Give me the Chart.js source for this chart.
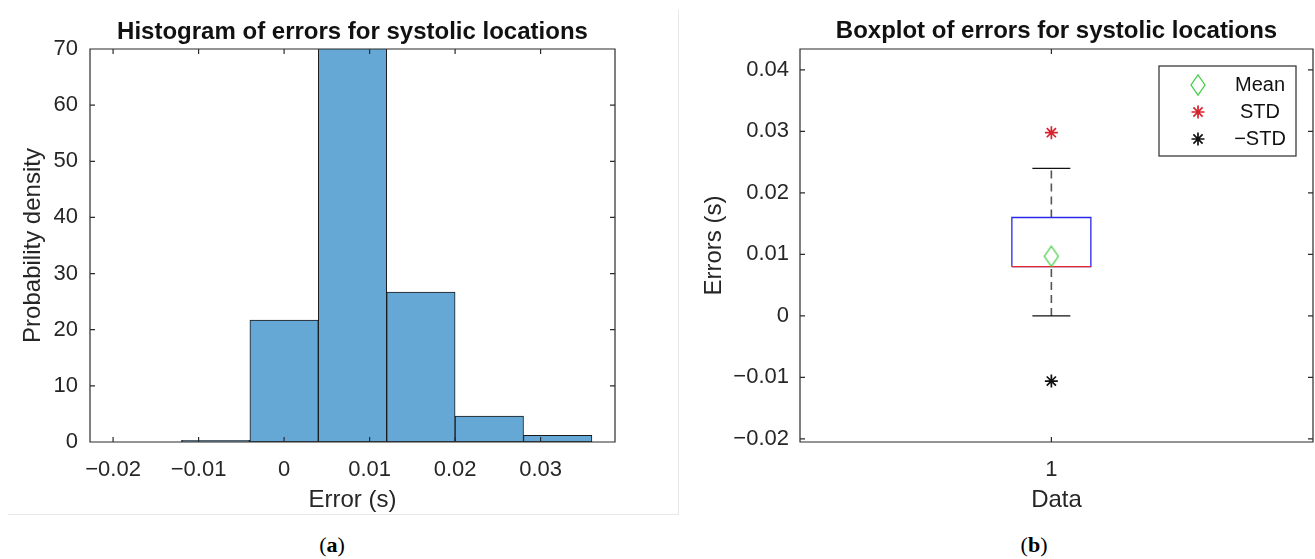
<!DOCTYPE html>
<html lang="en">
<head>
  <meta charset="UTF-8">
  <title>Errors for systolic locations</title>
  <script src="https://cdn.jsdelivr.net/npm/chart.js"></script>
  <style>
    body {
      margin: 0;
      width: 1315px;
      height: 559px;
      position: relative;
      overflow: hidden;
      background: #fff;
    }
    .frame {
      position: absolute;
      left: 8px;
      top: 10px;
      width: 670px;
      height: 504px;
      border-right: 1px solid #e8e8e8;
      border-bottom: 1px solid #e8e8e8;
    }
    canvas { position: absolute; top: 0; }
    #histChart { left: 0; }
    #boxChart { left: 680px; }
    .caption {
      position: absolute;
      top: 532px;
      font-family: "Liberation Serif", "DejaVu Serif", serif;
      font-size: 22px;
      color: #000;
      transform: translateX(-50%);
    }
  </style>
</head>
<body>
  <div class="frame"></div>
  <canvas id="histChart" width="660" height="515"></canvas>
  <canvas id="boxChart" width="635" height="515"></canvas>
  <div class="caption" style="left:332px">(<b>a</b>)</div>
  <div class="caption" style="left:1034px">(<b>b</b>)</div>

  <script>
    // (a) histogram values
    const binEdges = [-0.012, -0.004, 0.004, 0.012, 0.020, 0.028, 0.036];
    const density = [0.3, 21.7, 70.2, 26.7, 4.6, 1.2];
    const histXTicks = [-0.02, -0.01, 0, 0.01, 0.02, 0.03];
    const histXLabels = ['−0.02', '−0.01', '0', '0.01', '0.02', '0.03'];
    const histYTicks = [0, 10, 20, 30, 40, 50, 60, 70];

    // (b) boxplot values: lower whisker, q1, median, q3, upper whisker
    const boxPosition = [1];
    const boxStats = [0, 0.008, 0.008, 0.016, 0.024];
    const meanErr = [0.0097];
    const plusStd = [0.0298];
    const minusStd = [-0.0106];
    const boxYTicks = [-0.02, -0.01, 0, 0.01, 0.02, 0.03, 0.04];
    const boxYLabels = ['−0.02', '−0.01', '0', '0.01', '0.02', '0.03', '0.04'];
    const legendLabels = ['Mean', 'STD', '−STD'];

    Chart.defaults.font.family = '"Liberation Sans", Arial, Helvetica, sans-serif';
    Chart.defaults.color = '#262626';
    Chart.defaults.animation = false;
    Chart.defaults.events = [];

    const tickFont = { size: 22 };
    const labelFont = { size: 24 };
    const titleFont = { size: 24, weight: 'bold' };

    // MATLAB style axes box with inward tick marks on all four sides
    const axesBox = {
      id: 'axesBox',
      afterDatasetsDraw(chart) {
        const { ctx, chartArea: a, scales: { x, y } } = chart;
        const len = 5;
        ctx.save();
        ctx.strokeStyle = '#2b2b2b';
        ctx.lineWidth = 1.2;
        ctx.beginPath();
        x.ticks.forEach(t => {
          const px = x.getPixelForValue(t.value);
          ctx.moveTo(px, a.bottom); ctx.lineTo(px, a.bottom - len);
          ctx.moveTo(px, a.top); ctx.lineTo(px, a.top + len);
        });
        y.ticks.forEach(t => {
          const py = y.getPixelForValue(t.value);
          ctx.moveTo(a.left, py); ctx.lineTo(a.left + len, py);
          ctx.moveTo(a.right, py); ctx.lineTo(a.right - len, py);
        });
        ctx.rect(a.left, a.top, a.right - a.left, a.bottom - a.top);
        ctx.stroke();
        ctx.restore();
      }
    };

    function fixedTicks(values) {
      return scale => { scale.ticks = values.map(v => ({ value: v })); };
    }

    // ---------- (a) histogram ----------
    const binCenters = density.map((d, i) => (binEdges[i] + binEdges[i + 1]) / 2);

    new Chart(document.getElementById('histChart'), {
      type: 'bar',
      data: {
        datasets: [{
          data: binCenters.map((c, i) => ({ x: c, y: density[i] })),
          backgroundColor: 'rgb(101,168,214)',
          borderColor: '#1a1a1a',
          borderWidth: 1,
          borderSkipped: false,
          barPercentage: 1,
          categoryPercentage: 1
        }]
      },
      options: {
        responsive: false,
        layout: { autoPadding: false, padding: { left: 0, right: 45, top: 0, bottom: 0 } },
        plugins: {
          legend: { display: false },
          tooltip: { enabled: false },
          title: {
            display: true,
            fullSize: false,
            text: 'Histogram of errors for systolic locations',
            color: '#111',
            font: titleFont,
            padding: { top: 17.6, bottom: 2.6 }
          }
        },
        scales: {
          x: {
            type: 'linear',
            offset: false,
            min: -0.0227,
            max: 0.0387,
            afterBuildTicks: fixedTicks(histXTicks),
            afterFit: s => { s.height = 73; },
            grid: { display: false },
            border: { display: false },
            ticks: {
              font: tickFont,
              padding: 6.8,
              maxRotation: 0,
              autoSkip: false,
              callback: (v, i) => histXLabels[i]
            },
            title: { display: true, text: 'Error (s)', font: labelFont, padding: { top: 0, bottom: 0 } }
          },
          y: {
            min: 0,
            max: 70,
            afterBuildTicks: fixedTicks(histYTicks),
            afterFit: s => { s.width = 90; },
            grid: { display: false },
            border: { display: false },
            ticks: { font: tickFont, padding: 4 },
            title: { display: true, text: 'Probability density', font: labelFont, padding: { top: 18.6, bottom: 0 } }
          }
        }
      },
      plugins: [axesBox]
    });

    // ---------- (b) boxplot ----------
    const boxHalf = 0.077;
    const capHalf = 0.037;
    const [wLo, q1, med, q3, wHi] = boxStats;
    const bx = boxPosition[0];

    function diamondImage(w, h, color) {
      const c = document.createElement('canvas');
      c.width = w + 4;
      c.height = h + 4;
      const g = c.getContext('2d');
      g.strokeStyle = color;
      g.lineWidth = 1.3;
      g.beginPath();
      g.moveTo(c.width / 2, 2);
      g.lineTo(c.width - 2, c.height / 2);
      g.lineTo(c.width / 2, c.height - 2);
      g.lineTo(2, c.height / 2);
      g.closePath();
      g.stroke();
      return c;
    }
    const meanColor = 'rgb(70,205,70)';
    const stdColor = 'rgb(215,35,45)';
    const diamond = diamondImage(14, 20, meanColor);

    const seg = (pts, color, extra) => Object.assign({
      data: pts,
      borderColor: color,
      borderWidth: 1.3,
      pointRadius: 0,
      fill: false,
      tension: 0
    }, extra || {});

    function drawStar(ctx, x, y, r, color) {
      const d = r * 0.707;
      ctx.strokeStyle = color;
      ctx.lineWidth = 1.7;
      ctx.beginPath();
      ctx.moveTo(x - r, y); ctx.lineTo(x + r, y);
      ctx.moveTo(x, y - r); ctx.lineTo(x, y + r);
      ctx.moveTo(x - d, y - d); ctx.lineTo(x + d, y + d);
      ctx.moveTo(x - d, y + d); ctx.lineTo(x + d, y - d);
      ctx.stroke();
    }

    const boxLegend = {
      id: 'boxLegend',
      afterDraw(chart) {
        const { ctx, chartArea: a } = chart;
        const w = 137, h = 90;
        const left = a.right - 17 - w, top = a.top + 17;
        ctx.save();
        ctx.fillStyle = '#fff';
        ctx.fillRect(left, top, w, h);
        ctx.strokeStyle = '#2b2b2b';
        ctx.lineWidth = 1.2;
        ctx.strokeRect(left, top, w, h);
        const rows = [top + 19, top + 46, top + 73];
        const mx = left + 39;
        ctx.drawImage(diamond, mx - diamond.width / 2, rows[0] - diamond.height / 2);
        drawStar(ctx, mx, rows[1], 6.5, stdColor);
        drawStar(ctx, mx, rows[2], 6.5, '#111');
        ctx.fillStyle = '#111';
        ctx.font = '20px "Liberation Sans", Arial, sans-serif';
        ctx.textAlign = 'center';
        ctx.textBaseline = 'middle';
        legendLabels.forEach((t, i) => ctx.fillText(t, left + 101, rows[i]));
        ctx.restore();
      }
    };

    new Chart(document.getElementById('boxChart'), {
      type: 'line',
      data: {
        datasets: [
          // mean and +/- std markers (drawn on top)
          { data: [{ x: bx, y: meanErr[0] }], showLine: false, pointStyle: diamond, pointRadius: 10, borderColor: meanColor },
          { data: [{ x: bx, y: plusStd[0] }], showLine: false, pointStyle: 'star', pointRadius: 6.5, pointBorderWidth: 1.7, borderColor: stdColor },
          { data: [{ x: bx, y: minusStd[0] }], showLine: false, pointStyle: 'star', pointRadius: 6.5, pointBorderWidth: 1.7, borderColor: '#111' },
          // median
          seg([{ x: bx - boxHalf, y: med }, { x: bx + boxHalf, y: med }], 'rgb(235,40,40)'),
          // box
          seg([{ x: bx - boxHalf, y: q1 }, { x: bx + boxHalf, y: q1 }, { x: bx + boxHalf, y: q3 },
               { x: bx - boxHalf, y: q3 }, { x: bx - boxHalf, y: q1 }], 'rgb(40,40,235)'),
          // whisker caps
          seg([{ x: bx - capHalf, y: wHi }, { x: bx + capHalf, y: wHi }], '#111'),
          seg([{ x: bx - capHalf, y: wLo }, { x: bx + capHalf, y: wLo }], '#111'),
          // dashed whiskers
          seg([{ x: bx, y: q3 }, { x: bx, y: wHi }], '#555', { borderDash: [8, 5], borderWidth: 1.6 }),
          seg([{ x: bx, y: wLo }, { x: bx, y: q1 }], '#555', { borderDash: [8, 5], borderWidth: 1.6 })
        ]
      },
      options: {
        responsive: false,
        layout: { autoPadding: false, padding: { left: 0, right: 2, top: 0, bottom: 0 } },
        plugins: {
          legend: { display: false },
          tooltip: { enabled: false },
          title: {
            display: true,
            fullSize: false,
            text: 'Boxplot of errors for systolic locations',
            color: '#111',
            font: titleFont,
            padding: { top: 16.6, bottom: 3.6 }
          }
        },
        scales: {
          x: {
            type: 'linear',
            min: 0.51,
            max: 1.51,
            afterBuildTicks: fixedTicks(boxPosition),
            afterFit: s => { s.height = 73; },
            grid: { display: false },
            border: { display: false },
            ticks: { font: tickFont, padding: 6.8, maxRotation: 0, callback: v => String(v) },
            title: { display: true, text: 'Data', font: labelFont, padding: { top: 0, bottom: 0 } }
          },
          y: {
            type: 'linear',
            min: -0.0205,
            max: 0.0434,
            afterBuildTicks: fixedTicks(boxYTicks),
            afterFit: s => { s.width = 120; },
            grid: { display: false },
            border: { display: false },
            ticks: { font: tickFont, padding: 3, callback: (v, i) => boxYLabels[i] },
            title: { display: true, text: 'Errors (s)', font: labelFont, padding: { top: 19.6, bottom: 0 } }
          }
        }
      },
      plugins: [axesBox, boxLegend]
    });
  </script>
</body>
</html>
